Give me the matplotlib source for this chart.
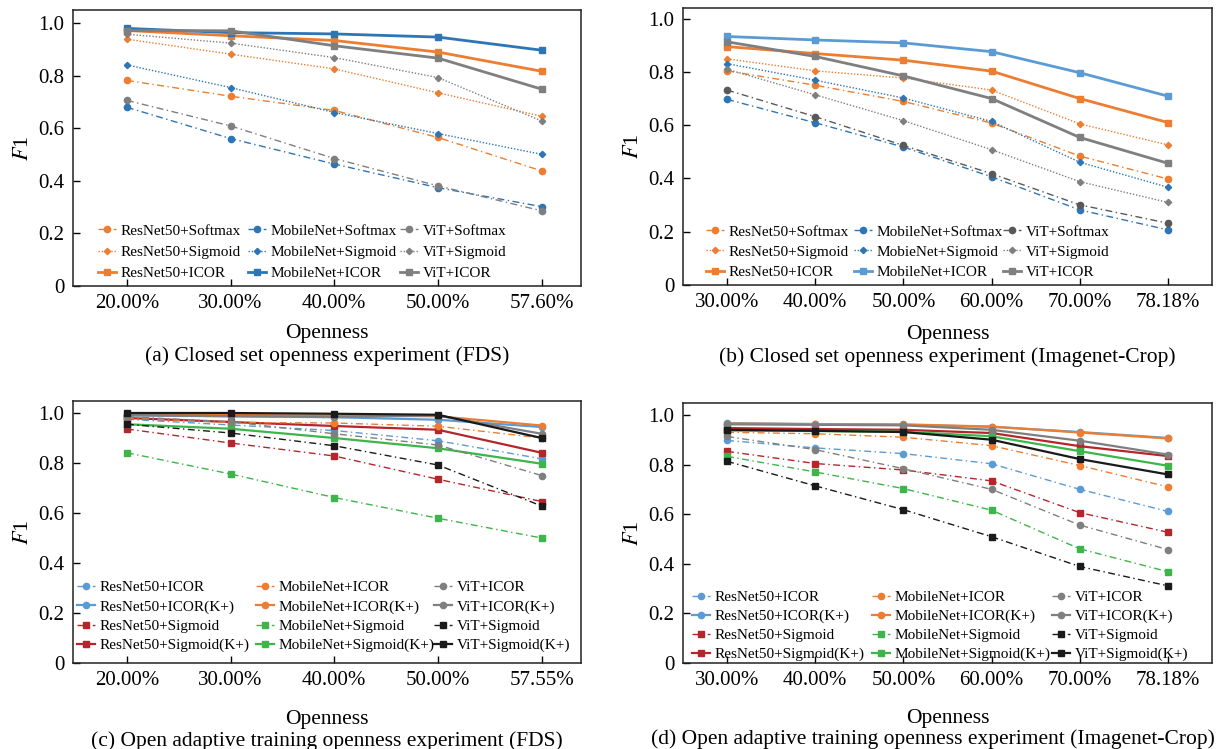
import matplotlib
matplotlib.use("Agg")
import matplotlib.pyplot as plt
from matplotlib.legend import Legend

plt.rcParams["font.family"] = ["Liberation Serif", "DejaVu Serif"]
plt.rcParams["mathtext.fontset"] = "stix"

# (a) closed set, FDS
x_a = ["20.00%", "30.00%", "40.00%", "50.00%", "57.60%"]
a_resnet_softmax = [0.782, 0.722, 0.668, 0.565, 0.438]
a_resnet_sigmoid = [0.939, 0.882, 0.826, 0.735, 0.646]
a_resnet_icor = [0.972, 0.952, 0.934, 0.890, 0.817]
a_mobilenet_softmax = [0.680, 0.561, 0.464, 0.374, 0.302]
a_mobilenet_sigmoid = [0.841, 0.755, 0.660, 0.580, 0.501]
a_mobilenet_icor = [0.980, 0.964, 0.959, 0.947, 0.897]
a_vit_softmax = [0.706, 0.609, 0.485, 0.381, 0.286]
a_vit_sigmoid = [0.958, 0.924, 0.869, 0.793, 0.628]
a_vit_icor = [0.972, 0.971, 0.914, 0.867, 0.749]

# (b) closed set, Imagenet-Crop
x_b = ["30.00%", "40.00%", "50.00%", "60.00%", "70.00%", "78.18%"]
b_resnet_softmax = [0.804, 0.750, 0.689, 0.608, 0.484, 0.398]
b_resnet_sigmoid = [0.849, 0.804, 0.777, 0.732, 0.605, 0.526]
b_resnet_icor = [0.895, 0.869, 0.844, 0.803, 0.700, 0.610]
b_mobilenet_softmax = [0.697, 0.609, 0.518, 0.406, 0.282, 0.207]
b_mobilenet_sigmoid = [0.831, 0.769, 0.702, 0.614, 0.461, 0.367]
b_mobilenet_icor = [0.933, 0.920, 0.909, 0.876, 0.797, 0.709]
b_vit_softmax = [0.732, 0.632, 0.524, 0.418, 0.301, 0.232]
b_vit_sigmoid = [0.810, 0.714, 0.617, 0.508, 0.388, 0.310]
b_vit_icor = [0.913, 0.858, 0.785, 0.700, 0.554, 0.457]

# (c) open adaptive training, FDS
x_c = ["20.00%", "30.00%", "40.00%", "50.00%", "57.55%"]
c_resnet_icor = [0.975, 0.952, 0.930, 0.889, 0.817]
c_resnet_icor_k = [0.990, 0.987, 0.983, 0.973, 0.944]
c_resnet_sigmoid = [0.936, 0.880, 0.828, 0.735, 0.646]
c_resnet_sigmoid_k = [0.980, 0.964, 0.948, 0.933, 0.841]
c_mobilenet_icor = [0.980, 0.962, 0.960, 0.947, 0.900]
c_mobilenet_icor_k = [0.992, 0.992, 0.989, 0.987, 0.950]
c_mobilenet_sigmoid = [0.841, 0.756, 0.662, 0.579, 0.500]
c_mobilenet_sigmoid_k = [0.955, 0.937, 0.900, 0.859, 0.797]
c_vit_icor = [0.985, 0.965, 0.917, 0.872, 0.750]
c_vit_icor_k = [0.992, 0.987, 0.985, 0.990, 0.917]
c_vit_sigmoid = [0.955, 0.920, 0.869, 0.792, 0.628]
c_vit_sigmoid_k = [1.000, 1.000, 0.997, 0.993, 0.900]

# (d) open adaptive training, Imagenet-Crop
x_d = ["30.00%", "40.00%", "50.00%", "60.00%", "70.00%", "78.18%"]
d_resnet_icor = [0.897, 0.867, 0.844, 0.803, 0.700, 0.611]
d_resnet_icor_k = [0.967, 0.963, 0.960, 0.952, 0.931, 0.907]
d_resnet_sigmoid = [0.853, 0.804, 0.778, 0.734, 0.606, 0.527]
d_resnet_sigmoid_k = [0.947, 0.943, 0.940, 0.927, 0.874, 0.834]
d_mobilenet_icor = [0.930, 0.924, 0.910, 0.876, 0.796, 0.710]
d_mobilenet_icor_k = [0.965, 0.963, 0.962, 0.953, 0.929, 0.905]
d_mobilenet_sigmoid = [0.833, 0.770, 0.703, 0.616, 0.460, 0.368]
d_mobilenet_sigmoid_k = [0.937, 0.935, 0.932, 0.914, 0.854, 0.795]
d_vit_icor = [0.913, 0.860, 0.783, 0.700, 0.556, 0.457]
d_vit_icor_k = [0.962, 0.960, 0.958, 0.940, 0.896, 0.840]
d_vit_sigmoid = [0.813, 0.714, 0.618, 0.509, 0.389, 0.311]
d_vit_sigmoid_k = [0.940, 0.936, 0.931, 0.900, 0.822, 0.760]

ORANGE = "#ED7D31"
BLUE = "#2E75B6"
LBLUE = "#5B9BD5"
GRAY = "#7F7F7F"
DGRAY = "#595959"
RED = "#B5262C"
GREEN = "#3DB54A"
BLACK = "#1A1A1A"

DASHDOT = (0, (5, 2.5, 1, 2.5))
DOTTED = (0, (1, 1.3))

fig = plt.figure(figsize=(12.25, 7.49), dpi=100)
W, H = 1225, 749


def make_axes(box):
    left, right, top, bottom = box
    return fig.add_axes([left / W, 1 - bottom / H, (right - left) / W, (bottom - top) / H])


def style_axes(ax, labels, xlim, ylim_top, caption, xlab_y, cap_y, cap_x=0.5):
    ax.set_xticks(range(len(labels)))
    ax.set_xticklabels(labels)
    ax.set_xlim(*xlim)
    ax.set_ylim(0, ylim_top)
    ax.set_yticks([0, 0.2, 0.4, 0.6, 0.8, 1.0])
    ax.set_yticklabels(["0", "0.2", "0.4", "0.6", "0.8", "1.0"])
    ax.tick_params(direction="in", length=5, width=1, labelsize=15, pad=6)
    for s in ax.spines.values():
        s.set_linewidth(1.1)
        s.set_color("#222222")
    ax.set_ylabel("$F$1", fontsize=16, labelpad=4)
    ax.text(0.5, xlab_y, "Openness", transform=ax.transAxes, ha="center", va="center", fontsize=15.5)
    ax.text(cap_x, cap_y, caption, transform=ax.transAxes, ha="center", va="center", fontsize=15.5)


def add_line(ax, y, color, ls, marker, label, lw=1.0, ms=4.5):
    return ax.plot(range(len(y)), y, color=color, linestyle=ls, marker=marker, markersize=ms,
                   linewidth=lw, label=label)[0]


# one legend per column so every column sits where the reference has it
def column_legends(ax, box, columns, xs_px, y_px, spacing):
    left, right, top, bottom = box
    for handles, xp in zip(columns, xs_px):
        leg = Legend(ax, handles, [h.get_label() for h in handles], loc="center left",
                     bbox_to_anchor=((xp - left) / (right - left), (bottom - y_px) / (bottom - top)),
                     frameon=False, fontsize=11, handlelength=1.2, handletextpad=0.3,
                     labelspacing=spacing, borderpad=0, borderaxespad=0)
        ax.add_artist(leg)


# ---- (a)
box = (73, 581, 10, 286)
ax = make_axes(box)
col1 = [add_line(ax, a_resnet_softmax, ORANGE, DASHDOT, "o", "ResNet50+Softmax"),
        add_line(ax, a_resnet_sigmoid, ORANGE, DOTTED, "D", "ResNet50+Sigmoid", ms=3.2),
        add_line(ax, a_resnet_icor, ORANGE, "-", "s", "ResNet50+ICOR", lw=2)]
col2 = [add_line(ax, a_mobilenet_softmax, BLUE, DASHDOT, "o", "MobileNet+Softmax"),
        add_line(ax, a_mobilenet_sigmoid, BLUE, DOTTED, "D", "MobileNet+Sigmoid", ms=3.2),
        add_line(ax, a_mobilenet_icor, BLUE, "-", "s", "MobileNet+ICOR", lw=2)]
col3 = [add_line(ax, a_vit_softmax, GRAY, DASHDOT, "o", "ViT+Softmax"),
        add_line(ax, a_vit_sigmoid, GRAY, DOTTED, "D", "ViT+Sigmoid", ms=3.2),
        add_line(ax, a_vit_icor, GRAY, "-", "s", "ViT+ICOR", lw=2)]
style_axes(ax, x_a, (-0.52, 4.38), 1.05, "(a) Closed set openness experiment (FDS)", -0.172, -0.255)
column_legends(ax, box, [col1, col2, col3], [98, 248, 400], 252, 0.48)

# ---- (b)
box = (683, 1212, 8, 285)
ax = make_axes(box)
col1 = [add_line(ax, b_resnet_softmax, ORANGE, DASHDOT, "o", "ResNet50+Softmax"),
        add_line(ax, b_resnet_sigmoid, ORANGE, DOTTED, "D", "ResNet50+Sigmoid", ms=3.2),
        add_line(ax, b_resnet_icor, ORANGE, "-", "s", "ResNet50+ICOR", lw=2)]
col2 = [add_line(ax, b_mobilenet_softmax, BLUE, DASHDOT, "o", "MobileNet+Softmax"),
        add_line(ax, b_mobilenet_sigmoid, BLUE, DOTTED, "D", "MobieNet+Sigmoid", ms=3.2),
        add_line(ax, b_mobilenet_icor, LBLUE, "-", "s", "MobileNet+ICOR", lw=2)]
col3 = [add_line(ax, b_vit_softmax, DGRAY, DASHDOT, "o", "ViT+Softmax"),
        add_line(ax, b_vit_sigmoid, GRAY, DOTTED, "D", "ViT+Sigmoid", ms=3.2),
        add_line(ax, b_vit_icor, GRAY, "-", "s", "ViT+ICOR", lw=2)]
style_axes(ax, x_b, (-0.5, 5.5), 1.04, "(b) Closed set openness experiment (Imagenet-Crop)", -0.178, -0.26)
column_legends(ax, box, [col1, col2, col3], [706, 854, 1003], 252, 0.42)

# ---- (c)
box = (73, 581, 401, 663)
ax = make_axes(box)
col1 = [add_line(ax, c_resnet_icor, LBLUE, DASHDOT, "o", "ResNet50+ICOR"),
        add_line(ax, c_resnet_icor_k, LBLUE, "-", "o", "ResNet50+ICOR(K+)", lw=1.6),
        add_line(ax, c_resnet_sigmoid, RED, DASHDOT, "s", "ResNet50+Sigmoid"),
        add_line(ax, c_resnet_sigmoid_k, RED, "-", "s", "ResNet50+Sigmoid(K+)", lw=1.6)]
col2 = [add_line(ax, c_mobilenet_icor, ORANGE, DASHDOT, "o", "MobileNet+ICOR"),
        add_line(ax, c_mobilenet_icor_k, ORANGE, "-", "o", "MobileNet+ICOR(K+)", lw=1.6),
        add_line(ax, c_mobilenet_sigmoid, GREEN, DASHDOT, "s", "MobileNet+Sigmoid"),
        add_line(ax, c_mobilenet_sigmoid_k, GREEN, "-", "s", "MobileNet+Sigmoid(K+)", lw=1.6)]
col3 = [add_line(ax, c_vit_icor, GRAY, DASHDOT, "o", "ViT+ICOR"),
        add_line(ax, c_vit_icor_k, GRAY, "-", "o", "ViT+ICOR(K+)", lw=1.6),
        add_line(ax, c_vit_sigmoid, BLACK, DASHDOT, "s", "ViT+Sigmoid"),
        add_line(ax, c_vit_sigmoid_k, BLACK, "-", "s", "ViT+Sigmoid(K+)", lw=1.6)]
style_axes(ax, x_c, (-0.52, 4.38), 1.048, "(c) Open adaptive training openness experiment (FDS)", -0.217, -0.298)
column_legends(ax, box, [col1, col2, col3], [77, 256, 434], 616.5, 0.36)

# ---- (d)
box = (683, 1212, 403, 663)
ax = make_axes(box)
col1 = [add_line(ax, d_resnet_icor, LBLUE, DASHDOT, "o", "ResNet50+ICOR"),
        add_line(ax, d_resnet_icor_k, LBLUE, "-", "o", "ResNet50+ICOR(K+)", lw=1.6),
        add_line(ax, d_resnet_sigmoid, RED, DASHDOT, "s", "ResNet50+Sigmoid"),
        add_line(ax, d_resnet_sigmoid_k, RED, "-", "s", "ResNet50+Sigmoid(K+)", lw=1.6)]
col2 = [add_line(ax, d_mobilenet_icor, ORANGE, DASHDOT, "o", "MobileNet+ICOR"),
        add_line(ax, d_mobilenet_icor_k, ORANGE, "-", "o", "MobileNet+ICOR(K+)", lw=1.6),
        add_line(ax, d_mobilenet_sigmoid, GREEN, DASHDOT, "s", "MobileNet+Sigmoid"),
        add_line(ax, d_mobilenet_sigmoid_k, GREEN, "-", "s", "MobileNet+Sigmoid(K+)", lw=1.6)]
col3 = [add_line(ax, d_vit_icor, GRAY, DASHDOT, "o", "ViT+ICOR"),
        add_line(ax, d_vit_icor_k, GRAY, "-", "o", "ViT+ICOR(K+)", lw=1.6),
        add_line(ax, d_vit_sigmoid, BLACK, DASHDOT, "s", "ViT+Sigmoid"),
        add_line(ax, d_vit_sigmoid_k, BLACK, "-", "s", "ViT+Sigmoid(K+)", lw=1.6)]
style_axes(ax, x_d, (-0.5, 5.5), 1.048, "(d) Open adaptive training openness experiment (Imagenet-Crop)",
           -0.215, -0.294, cap_x=0.473)
column_legends(ax, box, [col1, col2, col3], [692, 872, 1052], 626, 0.34)

fig.savefig("out.png", dpi=100)
